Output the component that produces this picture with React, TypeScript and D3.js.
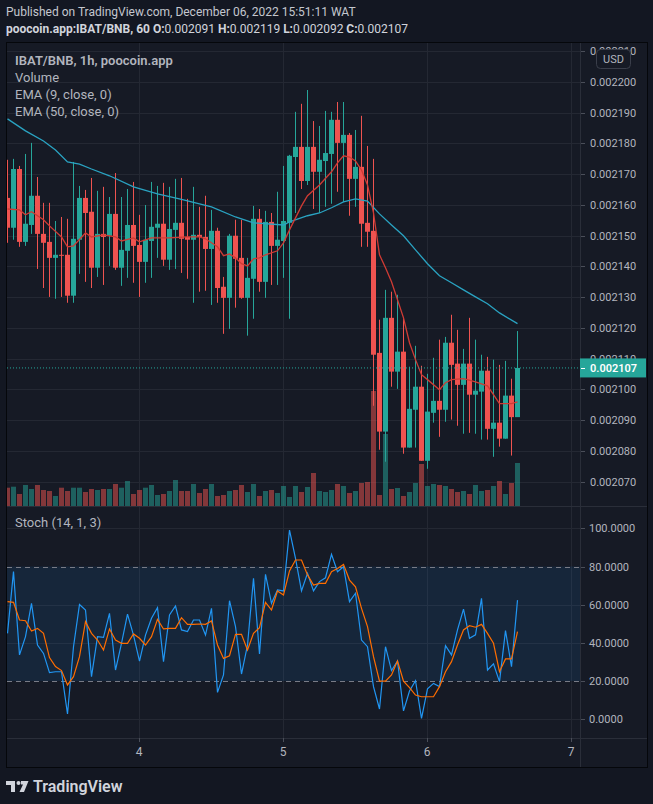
import React, { useEffect } from "react";
import * as d3 from "d3";

// ---------- DATA (prices in millionths of BNB, 1e-6) ----------
const opens = [2162.3,2152.6,2171.7,2148.0,2153.5,2163.0,2150.6,2148.0,2142.8,2143.8,2143.8,2130.5,2148.7,2162.3,2157.8,2139.6,2150.6,2150.0,2157.1,2139.6,2145.1,2153.5,2147.0,2141.5,2148.3,2152.6,2153.9,2142.2,2151.9,2154.2,2149.6,2148.7,2150.3,2149.6,2145.7,2151.6,2133.4,2129.8,2150.0,2142.8,2129.8,2136.0,2155.5,2135.0,2154.5,2146.7,2148.3,2154.2,2175.6,2178.9,2167.8,2178.9,2170.8,2174.3,2176.6,2187.7,2180.2,2182.8,2168.5,2172.4,2154.2,2151.6,2111.9,2086.3,2123.3,2105.8,2112.3,2081.1,2093.4,2100.9,2076.8,2092.4,2096.3,2093.4,2115.2,2108.4,2101.5,2108.4,2098.3,2099.3,2106.1,2087.2,2089.2,2084.0,2098.0,2091.0];
const highs = [2174.7,2175.0,2172.7,2176.6,2180.2,2169.1,2160.7,2160.7,2154.8,2156.1,2155.5,2174.0,2166.2,2164.9,2168.8,2164.6,2165.9,2162.6,2170.4,2162.6,2165.2,2167.5,2156.8,2160.0,2167.5,2166.2,2167.2,2165.9,2168.5,2168.8,2162.0,2165.9,2159.4,2163.0,2158.4,2152.6,2136.6,2150.6,2155.2,2155.2,2142.8,2159.7,2158.7,2158.1,2157.4,2164.3,2172.7,2176.3,2190.3,2192.9,2197.4,2187.3,2185.7,2190.6,2190.3,2193.5,2193.5,2183.4,2184.4,2189.0,2179.2,2175.0,2122.7,2132.4,2131.8,2130.8,2123.6,2107.4,2114.2,2107.7,2105.1,2110.3,2116.2,2117.1,2124.3,2119.4,2113.2,2123.3,2116.2,2111.3,2110.6,2109.7,2108.0,2109.3,2103.5,2119.0];
const lows = [2147.7,2148.7,2146.4,2146.7,2150.6,2139.2,2133.0,2130.1,2129.5,2130.1,2128.2,2128.2,2137.6,2135.0,2133.0,2136.6,2134.0,2140.2,2138.9,2133.7,2136.3,2134.7,2130.1,2134.7,2136.3,2142.8,2140.2,2138.9,2139.2,2137.9,2136.0,2128.2,2131.8,2132.1,2127.5,2128.2,2118.1,2119.7,2126.6,2129.5,2117.5,2123.0,2131.8,2129.8,2134.0,2134.0,2136.3,2123.0,2157.4,2165.2,2166.5,2158.7,2157.4,2159.4,2160.4,2164.3,2161.0,2156.5,2159.4,2146.4,2146.4,2094.7,2080.4,2076.5,2100.9,2100.2,2079.1,2081.1,2081.1,2076.8,2074.2,2089.2,2084.6,2089.5,2090.2,2088.2,2085.6,2085.9,2085.6,2083.7,2083.7,2078.1,2081.4,2084.0,2078.5,2092.0];
const closes = [2152.6,2171.7,2148.0,2153.9,2163.0,2150.6,2147.7,2142.8,2143.8,2143.5,2130.5,2149.0,2162.3,2157.4,2139.6,2150.6,2149.6,2157.1,2139.6,2145.4,2153.5,2146.7,2141.5,2148.7,2152.9,2153.9,2142.2,2152.2,2154.2,2149.0,2148.7,2150.3,2149.6,2145.7,2151.6,2133.0,2129.8,2150.0,2142.5,2129.8,2136.3,2155.5,2135.0,2154.5,2146.7,2148.7,2154.8,2176.0,2178.9,2167.8,2178.9,2170.8,2174.7,2176.9,2187.7,2180.2,2182.8,2168.5,2172.4,2153.9,2151.3,2111.3,2086.3,2123.3,2105.8,2112.3,2081.1,2093.7,2100.9,2076.8,2092.8,2096.3,2093.4,2115.2,2108.0,2101.5,2108.4,2098.3,2099.6,2106.1,2087.2,2089.2,2084.0,2098.0,2091.0,2107.0];
const volumes = [18.3,19.3,12,21,17,21,16,15,10,18.3,15,18.3,18.3,14,17,16,17,17,22,18.3,25,12,16,18.3,21,11,12,15,26,15,15,22,13,17,22,10,11,15,16,21,14,22,10,15,16,13,20,9,20,14,19,33,15,14,16,22,20,13,15,23,24,115,11,72,17,18,10,14,23,42,20,22,21,20,17,14,15,12,21,15,16,20,25,12,23,43];

const ema9Idx = [0,2,3,4,6,7,9,10,11,13,14,16,18,19,21,22,24,27,30,32,33,35,36,37,38,39,40,41,42,43,45,46,47,48,49,50,52,54,55,56,57,58,59,60,61,62,63,64,65,66,67,68,69,70,72,73,74,76,78,80,81,82,84,85];
const ema9Val = [2158.7,2158.4,2156.8,2157.8,2155.2,2153.2,2149.6,2146.4,2146.7,2150.9,2149.6,2150.3,2149.6,2148.3,2149.3,2148.0,2149.3,2149.3,2149.6,2149.6,2149.0,2146.4,2143.5,2144.1,2142.8,2140.9,2140.2,2142.5,2142.8,2143.8,2145.1,2147.7,2151.9,2155.8,2159.7,2163.0,2166.5,2170.8,2173.7,2176.0,2175.6,2174.3,2171.4,2166.5,2157.4,2143.8,2139.6,2135.0,2129.2,2123.3,2115.2,2109.7,2104.8,2103.2,2099.9,2102.2,2103.2,2103.5,2102.5,2101.2,2098.3,2095.4,2095.4,2096.0];
const ema50Idx = [0,3,6,8,10,12,14,17,21,25,29,34,38,41,46,47,50,52,54,56,58,60,62,64,66,68,70,72,74,76,78,80,82,85];
const ema50Val = [2188.0,2184.1,2180.8,2177.9,2174.0,2173.3,2171.7,2169.5,2165.9,2163.6,2161.8,2159.4,2156.1,2154.2,2153.5,2154.5,2156.5,2157.4,2159.1,2161.0,2162.0,2161.3,2157.1,2153.5,2150.0,2145.4,2140.9,2137.0,2134.7,2132.4,2130.1,2127.9,2124.9,2121.4];

const stochK = [45.0,77.3,33.7,43.3,60.7,38.9,34.5,24.4,24.9,24.9,2.8,38.0,60.1,57.2,22.3,43.3,42.9,55.5,25.8,39.8,55.1,44.1,30.5,44.1,52.9,58.4,30.2,54.6,59.3,46.8,45.9,52.0,52.0,44.1,58.1,14.1,23.2,62.1,48.5,23.7,38.9,73.8,34.2,75.9,60.7,67.7,67.2,99.1,84.3,67.2,76.4,67.2,72.1,74.1,86.4,77.3,79.9,61.6,66.0,41.5,38.0,17.1,5.4,38.0,25.5,30.5,4.4,14.8,20.2,0.5,15.9,18.8,17.1,38.5,33.7,46.8,57.7,42.4,44.2,63.3,25.8,29.0,19.7,46.4,27.6,62.4];
const stochD = [61.6,61.2,52.0,51.6,46.2,47.6,45.0,32.3,27.6,25.5,18.0,22.3,32.8,51.1,45.0,41.5,36.3,47.3,41.5,39.8,39.8,44.7,42.4,38.9,43.3,52.3,47.3,47.6,47.6,53.2,49.7,49.7,49.9,49.7,51.5,38.9,31.9,33.3,44.5,44.5,36.3,45.0,48.0,61.2,57.2,67.2,65.1,77.7,83.4,83.4,75.6,70.3,71.2,71.2,77.3,79.0,81.1,72.9,69.4,58.1,48.5,32.8,20.0,20.0,23.2,30.5,20.0,16.6,12.7,11.8,11.8,11.8,17.1,24.9,30.2,38.9,46.8,49.0,48.2,49.7,45.0,39.8,24.9,31.6,31.6,45.9];

const priceTicks = [2070,2080,2090,2100,2110,2120,2130,2140,2150,2160,2170,2180,2190,2200,2210];
const stochTicks = [0,20,40,60,80,100];
const stochGrid = [0,40,60,100];
const dayTickDates = ["2022-12-04T00:00:00Z","2022-12-05T00:00:00Z","2022-12-06T00:00:00Z","2022-12-07T00:00:00Z"];
const dayTickLabels = ["4","5","6","7"];
const firstBarTime = "2022-12-03T02:00:00Z";
const lastPrice = 2107.0;
const headerLine1 = "Published on TradingView.com, December 06, 2022 15:51:11 WAT";
const legendLines = ["Volume","EMA (9, close, 0)","EMA (50, close, 0)"];

// ---------- LAYOUT ----------
const W = 653, H = 804;
const L = 7, R = 580, FR = 647;
const MAIN_T = 43, MAIN_B = 506, ST_T = 507, ST_B = 738, AX_B = 767;
const UP = "#26a69a", DOWN = "#ef5350";
const BG = "#161a25", OUT = "#131722", GRID = "#242833", TXT = "#b2b5be";
const FONT = "Roboto, 'Noto Sans', sans-serif";
const HOUR = 3600000;

export default function App() {
  useEffect(() => {
    document.body.style.margin = "0";
    document.body.style.background = OUT;
  }, []);

  const t0 = new Date(firstBarTime).getTime();
  const times = opens.map((_, i) => new Date(t0 + i * HOUR));
  const x = d3.scaleUtc().domain([new Date(firstBarTime), new Date(dayTickDates[3])]).range([7, 571]);
  const yP = d3.scaleLinear().domain([2070, 2200]).range([481.7, 82]);
  const yV = d3.scaleLinear().domain([0, 115]).range([506, 391]);
  const yS = d3.scaleLinear().domain([0, 100]).range([719.3, 528.3]);
  const cx = (i: number) => Math.round(x(times[i]));
  const cxIdx = (i: number) => x(new Date(t0 + i * HOUR));

  const stLine = d3.line<number>().x((_, i) => cx(i) + 0.5).y((v) => yS(v));
  const emaLine = d3.line<[number, number]>().x((d) => cxIdx(d[0]) + 0.5).y((d) => yP(d[1]));
  const ema9Pts: [number, number][] = ema9Idx.map((d, i) => [d, ema9Val[i]]);
  const ema50Pts: [number, number][] = ema50Idx.map((d, i) => [d, ema50Val[i]]);
  const crisp = (v: number) => Math.round(v) + 0.5;

  return (
    <svg width={W} height={H} style={{ display: "block", position: "absolute", left: 0, top: 0 }} fontFamily={FONT}>
      <defs>
        <clipPath id="mainClip"><rect x={L} y={MAIN_T} width={R - L} height={MAIN_B - MAIN_T} /></clipPath>
        <clipPath id="stClip"><rect x={L} y={ST_T} width={R - L} height={ST_B - ST_T} /></clipPath>
        <clipPath id="axClip"><rect x={R} y={MAIN_T} width={FR - R} height={MAIN_B - MAIN_T} /></clipPath>
      </defs>
      <rect x={0} y={0} width={W} height={H} fill={OUT} />
      {/* header */}
      <text x={6} y={16} fontSize={12} fill="#c4c7cf">{headerLine1}</text>
      <text x={6} y={33} fontSize={12} fill="#d1d4dc">
        <tspan fontWeight={700}>poocoin.app:IBAT/BNB, 60 </tspan>
        <tspan fontWeight={700}>O:</tspan><tspan>{(opens[85] / 1e6).toFixed(6)} </tspan>
        <tspan fontWeight={700}>H:</tspan><tspan>{(highs[85] / 1e6).toFixed(6)} </tspan>
        <tspan fontWeight={700}>L:</tspan><tspan>{(lows[85] / 1e6).toFixed(6)} </tspan>
        <tspan fontWeight={700}>C:</tspan><tspan>{(closes[85] / 1e6).toFixed(6)}</tspan>
      </text>

      {/* frame */}
      <rect x={6.5} y={42.5} width={FR - 6} height={AX_B - 42} fill={BG} stroke="#05070b" strokeWidth={1} />

      {/* grid */}
      {priceTicks.map((p) => (
        <line key={"pg" + p} x1={L} x2={R} y1={crisp(yP(p))} y2={crisp(yP(p))} stroke={GRID} clipPath="url(#mainClip)" />
      ))}
      {stochGrid.map((v) => (
        <line key={"sg" + v} x1={L} x2={R} y1={crisp(yS(v))} y2={crisp(yS(v))} stroke={GRID} />
      ))}
      {dayTickDates.map((d) => {
        const xx = crisp(x(new Date(d)));
        return <line key={"vg" + d} x1={xx} x2={xx} y1={MAIN_T} y2={ST_B} stroke={GRID} />;
      })}

      {/* volume */}
      <g clipPath="url(#mainClip)">
        {volumes.map((v, i) => (
          <rect key={"v" + i} x={cx(i) - 2} width={5} y={yV(v)} height={yV(0) - yV(v)}
            fill={closes[i] >= opens[i] ? "rgba(38,166,154,0.5)" : "rgba(239,83,80,0.5)"} />
        ))}
      </g>

      {/* candles */}
      <g clipPath="url(#mainClip)">
        {opens.map((o, i) => {
          const c = closes[i];
          const up = c >= o;
          const col = up ? UP : DOWN;
          const top = yP(Math.max(o, c));
          const bot = yP(Math.min(o, c));
          return (
            <g key={"c" + i}>
              <rect x={cx(i)} width={1} y={yP(highs[i])} height={Math.max(1, yP(lows[i]) - yP(highs[i]))} fill={col} />
              <rect x={cx(i) - 2} width={5} y={top} height={Math.max(1, bot - top)} fill={col} />
            </g>
          );
        })}
        <path d={emaLine(ema50Pts) || ""} fill="none" stroke="#2aa3c2" strokeWidth={1.3} />
        <path d={emaLine(ema9Pts) || ""} fill="none" stroke="#cf3b34" strokeWidth={1.3} />
        <line x1={L} x2={R} y1={yP(lastPrice)} y2={yP(lastPrice)} stroke={UP} strokeWidth={1} strokeDasharray="1 2" />
      </g>

      {/* legend */}
      <text x={15} y={65} fontSize={13} fill={TXT} fontWeight={600}>IBAT/BNB, 1h, poocoin.app</text>
      {legendLines.map((s, i) => (
        <text key={s} x={15} y={82 + i * 17} fontSize={13} fill={TXT}>{s}</text>
      ))}

      {/* separators */}
      <line x1={L} x2={FR} y1={506.5} y2={506.5} stroke="#2a2e39" strokeWidth={1} />
      <line x1={L} x2={FR} y1={738.5} y2={738.5} stroke="#2a2e39" strokeWidth={1} />
      <line x1={580.5} x2={580.5} y1={MAIN_T} y2={AX_B} stroke="#2a2e39" strokeWidth={1} />

      {/* stochastic pane */}
      <g clipPath="url(#stClip)">
        <rect x={L} y={yS(80)} width={R - L} height={yS(20) - yS(80)} fill="rgba(33,150,243,0.1)" />
        <line x1={L} x2={R} y1={crisp(yS(80))} y2={crisp(yS(80))} stroke="#787b86" strokeDasharray="5 4" />
        <line x1={L} x2={R} y1={crisp(yS(20))} y2={crisp(yS(20))} stroke="#787b86" strokeDasharray="5 4" />
        <path d={stLine(stochK) || ""} fill="none" stroke="#2196f3" strokeWidth={1.2} />
        <path d={stLine(stochD) || ""} fill="none" stroke="#ff6d00" strokeWidth={1.2} />
      </g>
      <text x={15} y={527} fontSize={13} fill={TXT}>Stoch (14, 1, 3)</text>

      {/* price axis */}
      <g clipPath="url(#axClip)">
        {priceTicks.map((p) => (
          <g key={"pt" + p}>
            <line x1={581} x2={585} y1={crisp(yP(p))} y2={crisp(yP(p))} stroke="#4a4e59" />
            <text x={590} y={yP(p) + 4} fontSize={11} fill={TXT}>{(p / 1e6).toFixed(6)}</text>
          </g>
        ))}
      </g>
      <rect x={596.5} y={49.5} width={34} height={19} rx={4} fill={BG} stroke="#3a3e4a" />
      <text x={613.5} y={63} fontSize={11} fill={TXT} textAnchor="middle">USD</text>
      <rect x={580} y={yP(lastPrice) - 9.5} width={66} height={19} fill={UP} />
      <line x1={581} x2={585} y1={crisp(yP(lastPrice))} y2={crisp(yP(lastPrice))} stroke="#ffffff" />
      <text x={590} y={yP(lastPrice) + 4} fontSize={11} fill="#ffffff" fontWeight={600}>{(lastPrice / 1e6).toFixed(6)}</text>

      {/* stoch axis */}
      {stochTicks.map((v) => (
        <g key={"st" + v}>
          <line x1={581} x2={585} y1={crisp(yS(v))} y2={crisp(yS(v))} stroke="#4a4e59" />
          <text x={589} y={yS(v) + 4} fontSize={11} fill={TXT}>{v.toFixed(4)}</text>
        </g>
      ))}

      {/* time axis */}
      {dayTickDates.map((d, i) => {
        const xx = x(new Date(d));
        return (
          <g key={"tt" + d}>
            <line x1={crisp(xx)} x2={crisp(xx)} y1={738} y2={742} stroke="#4a4e59" />
            <text x={xx} y={756} fontSize={12} fill={TXT} textAnchor="middle">{dayTickLabels[i]}</text>
          </g>
        );
      })}

      {/* TradingView logo */}
      <g fill="#d1d4dc">
        <path d="M6 781 H15 V792 H11 V785 H6 Z" />
        <circle cx={18.5} cy={783} r={2} />
        <path d="M21 781 H28.5 L24 792 H19.5 L23 784.5 H21 Z" />
        <text x={33} y={792} fontSize={16} fontWeight={600} fill="#d1d4dc">TradingView</text>
      </g>
    </svg>
  );
}
